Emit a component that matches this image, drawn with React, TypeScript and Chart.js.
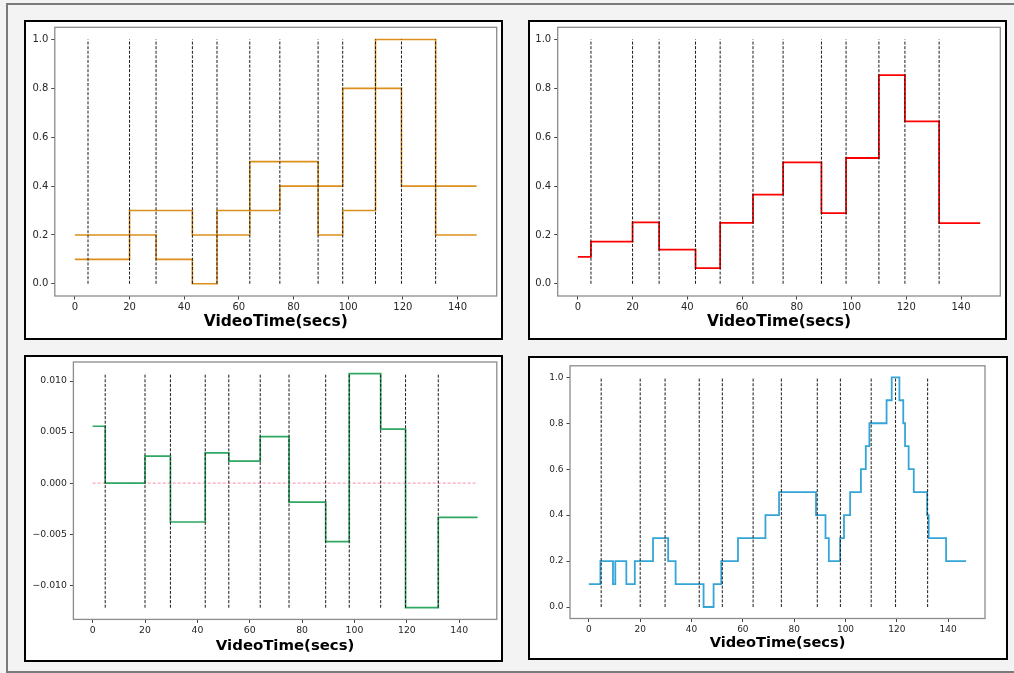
import React, { useEffect, useRef } from "react";
import { Chart, registerables } from "chart.js";

Chart.register(...registerables);

// ---------- data ----------
const X_TICKS = [0, 20, 40, 60, 80, 100, 120, 140];
const UNIT_TICKS = [0, 0.2, 0.4, 0.6, 0.8, 1.0];
const DIFF_TICKS = [-0.01, -0.005, 0, 0.005, 0.01];
const X_END = 147;

// start of each segment (video time, secs)
const SEGMENT_STARTS = [0, 4.8, 20, 29.7, 43, 52, 64, 75, 89, 98, 110, 119.5, 132];
// dashed marker lines (scene boundaries)
const BOUNDARIES = [4.8, 20, 29.7, 43, 52, 64, 75, 89, 98, 110, 119.5, 132];

// panel 1: two raters (orange)
const RATER_A = [0.2, 0.2, 0.2, 0.1, 0.0, 0.3, 0.3, 0.4, 0.4, 0.8, 0.8, 0.4, 0.4];
const RATER_B = [0.1, 0.1, 0.3, 0.3, 0.2, 0.2, 0.5, 0.5, 0.2, 0.3, 1.0, 1.0, 0.2];

// panel 2: mean (red)
const MEAN_VALUES = [0.11, 0.173, 0.251, 0.14, 0.064, 0.249, 0.365, 0.497, 0.289, 0.515, 0.854, 0.665, 0.248];

// panel 3: difference (green)
const DIFF_VALUES = [0.00557, 0.0, 0.00264, -0.00381, 0.00296, 0.00215, 0.00456, -0.00186, -0.00573, 0.01072, 0.00528, -0.01221, -0.00335];

// panel 4: continuous trace (blue), step-post
const TRACE_X = [0, 4.5, 9.4, 10.3, 14.6, 17.9, 25.0, 30.9, 33.8, 44.7, 48.6, 51.6, 58.1, 68.8, 74.1, 88.5, 92.2, 93.5, 97.9, 99.4, 101.8, 106.0, 107.9, 109.3, 116.0, 118.0, 121.0, 122.5, 123.2, 124.6, 126.6, 131.8, 132.4, 139.2, 147];
const TRACE_Y = [0.1, 0.2, 0.1, 0.2, 0.1, 0.2, 0.3, 0.2, 0.1, 0.0, 0.1, 0.2, 0.3, 0.4, 0.5, 0.4, 0.3, 0.2, 0.3, 0.4, 0.5, 0.6, 0.7, 0.8, 0.9, 1.0, 0.9, 0.8, 0.7, 0.6, 0.5, 0.4, 0.3, 0.2, 0.2];

const X_TITLE = "VideoTime(secs)";
const FONT = "'DejaVu Sans', sans-serif";

// ---------- helpers ----------
const segPoints = (vals: number[]) =>
  SEGMENT_STARTS.map((x, i) => ({ x, y: vals[i] })).concat([{ x: X_END, y: vals[vals.length - 1] }]);

const stepLine = (points: { x: number; y: number }[], color: string, width = 1.6) => ({
  data: points,
  borderColor: color,
  borderWidth: width,
  stepped: true,
  pointRadius: 0,
  fill: false,
  order: 2,
});

const markerLines = (lo: number, hi: number) =>
  BOUNDARIES.map((x) => ({
    data: [
      { x, y: lo },
      { x, y: hi },
    ],
    borderColor: "#1a1a1a",
    borderWidth: 1,
    borderDash: [3, 1.6],
    pointRadius: 0,
    fill: false,
    order: 0,
  }));

const framePlugin = {
  id: "frame",
  afterDatasetsDraw(chart: any) {
    const { ctx, chartArea: a } = chart;
    ctx.save();
    ctx.strokeStyle = "#8c8c8c";
    ctx.lineWidth = 1.3;
    ctx.strokeRect(a.left, a.top, a.right - a.left, a.bottom - a.top);
    ctx.restore();
  },
};

type Box = { l: number; t: number; w: number; h: number };
type Frame = { l: number; t: number; r: number; b: number };

function Panel(props: {
  box: Box;
  frame: Frame;
  datasets: any[];
  yTicks: number[];
  yFmt: (v: number) => string;
  yLo: number;
  yHi: number;
  tickSize: number;
  titleSize: number;
  titleBaseline: number;
}) {
  const ref = useRef<HTMLCanvasElement>(null);
  const { box, frame, datasets, yTicks, yFmt, yLo, yHi, tickSize, titleSize, titleBaseline } = props;
  const cw = box.w - 4;
  const ch = box.h - 4;
  useEffect(() => {
    const ox = box.l + 2;
    const oy = box.t + 2;
    const xPad = (X_END - 0) * 0.05;
    const yPad = (yHi - yLo) * 0.05;
    const titleMiddle = titleBaseline - 0.346 * titleSize;
    const titlePadBottom = oy + ch - 0.6 * titleSize - titleMiddle;
    const chart = new Chart(ref.current as HTMLCanvasElement, {
      type: "line",
      data: { datasets },
      options: {
        animation: false,
        responsive: false,
        devicePixelRatio: 1,
        layout: {
          autoPadding: false,
          padding: { top: frame.t - oy, right: ox + cw - frame.r, left: 0, bottom: 0 },
        },
        plugins: { legend: { display: false }, tooltip: { enabled: false } },
        scales: {
          x: {
            type: "linear",
            min: 0 - xPad,
            max: X_END + xPad,
            afterBuildTicks: (s: any) => {
              s.ticks = X_TICKS.map((v) => ({ value: v }));
            },
            afterFit: (s: any) => {
              s.height = oy + ch - frame.b;
              s.paddingLeft = 0;
              s.paddingRight = 0;
              s.paddingTop = 0;
              s.paddingBottom = 0;
            },
            ticks: {
              font: { family: FONT, size: tickSize },
              color: "#262626",
              padding: 2,
              maxRotation: 0,
              autoSkip: false,
              callback: (v: any) => String(v),
            },
            grid: { drawOnChartArea: false, drawTicks: true, tickLength: 3.5, color: "#444", lineWidth: 1 },
            border: { display: false },
            title: {
              display: true,
              text: X_TITLE,
              color: "#000",
              font: { family: FONT, size: titleSize, weight: "bold" },
              padding: { top: 0, bottom: titlePadBottom },
            },
          },
          y: {
            type: "linear",
            min: yLo - yPad,
            max: yHi + yPad,
            afterBuildTicks: (s: any) => {
              s.ticks = yTicks.map((v) => ({ value: v }));
            },
            afterFit: (s: any) => {
              s.width = frame.l - ox;
              s.paddingLeft = 0;
              s.paddingRight = 0;
              s.paddingTop = 0;
              s.paddingBottom = 0;
            },
            ticks: {
              font: { family: FONT, size: tickSize },
              color: "#262626",
              padding: 3,
              autoSkip: false,
              callback: (v: any) => yFmt(Number(v)),
            },
            grid: { drawOnChartArea: false, drawTicks: true, tickLength: 3.5, color: "#444", lineWidth: 1 },
            border: { display: false },
          },
        },
      } as any,
      plugins: [framePlugin],
    });
    return () => chart.destroy();
  }, []);
  return (
    <div
      style={{
        position: "absolute",
        left: box.l,
        top: box.t,
        width: box.w,
        height: box.h,
        boxSizing: "border-box",
        border: "2px solid #000",
        background: "#fff",
      }}
    >
      <canvas ref={ref} width={cw} height={ch} style={{ display: "block", width: cw, height: ch }} />
    </div>
  );
}

const fmt1 = (v: number) => v.toFixed(1);
const fmt3 = (v: number) => {
  const s = Math.abs(v) < 1e-12 ? "0.000" : v.toFixed(3);
  return s.replace("-", "\u2212");
};

export default function App() {
  const diffLo = Math.min(...DIFF_VALUES);
  const diffHi = Math.max(...DIFF_VALUES);

  const p1 = [
    ...markerLines(0, 1),
    stepLine(segPoints(RATER_A), "#dd8f1c"),
    stepLine(segPoints(RATER_B), "#dd8f1c"),
  ];
  const p2 = [...markerLines(0, 1), stepLine(segPoints(MEAN_VALUES), "#ff0000", 1.8)];
  const p3 = [
    ...markerLines(diffLo, diffHi),
    stepLine(segPoints(DIFF_VALUES), "#2ea862", 1.7),
    {
      data: [
        { x: 0, y: 0 },
        { x: X_END, y: 0 },
      ],
      borderColor: "#ffa3b8",
      borderWidth: 1.2,
      borderDash: [3, 2],
      pointRadius: 0,
      fill: false,
      order: 3,
    },
  ];
  const p4 = [
    ...markerLines(0, 1),
    stepLine(
      TRACE_X.map((x, i) => ({ x, y: TRACE_Y[i] })),
      "#35a5d8",
      1.8
    ),
  ];

  return (
    <div style={{ position: "absolute", left: 0, top: 0, width: 1014, height: 673, background: "#f3f3f3", overflow: "hidden" }}>
      <div
        style={{
          position: "absolute",
          left: 6,
          top: 3,
          width: 1020,
          height: 666,
          borderLeft: "2.5px solid #7a7a7a",
          borderTop: "2px solid #7a7a7a",
          borderBottom: "2px solid #7a7a7a",
        }}
      />
      <Panel
        box={{ l: 24, t: 20, w: 479, h: 320 }}
        frame={{ l: 54.8, t: 27.3, r: 496.7, b: 296 }}
        datasets={p1}
        yTicks={UNIT_TICKS}
        yFmt={fmt1}
        yLo={0}
        yHi={1}
        tickSize={10}
        titleSize={15.5}
        titleBaseline={327.8}
      />
      <Panel
        box={{ l: 528, t: 20, w: 479, h: 320 }}
        frame={{ l: 557.7, t: 27.3, r: 1000.3, b: 296 }}
        datasets={p2}
        yTicks={UNIT_TICKS}
        yFmt={fmt1}
        yLo={0}
        yHi={1}
        tickSize={10}
        titleSize={15.5}
        titleBaseline={327.8}
      />
      <Panel
        box={{ l: 24, t: 355, w: 479, h: 307 }}
        frame={{ l: 73.4, t: 362, r: 496.8, b: 619.4 }}
        datasets={p3}
        yTicks={DIFF_TICKS}
        yFmt={fmt3}
        yLo={diffLo}
        yHi={diffHi}
        tickSize={9.3}
        titleSize={14.9}
        titleBaseline={650.8}
      />
      <Panel
        box={{ l: 528, t: 356, w: 480, h: 304 }}
        frame={{ l: 570, t: 365.8, r: 985, b: 618.5 }}
        datasets={p4}
        yTicks={UNIT_TICKS}
        yFmt={fmt1}
        yLo={0}
        yHi={1}
        tickSize={9}
        titleSize={14.6}
        titleBaseline={648.6}
      />
    </div>
  );
}
